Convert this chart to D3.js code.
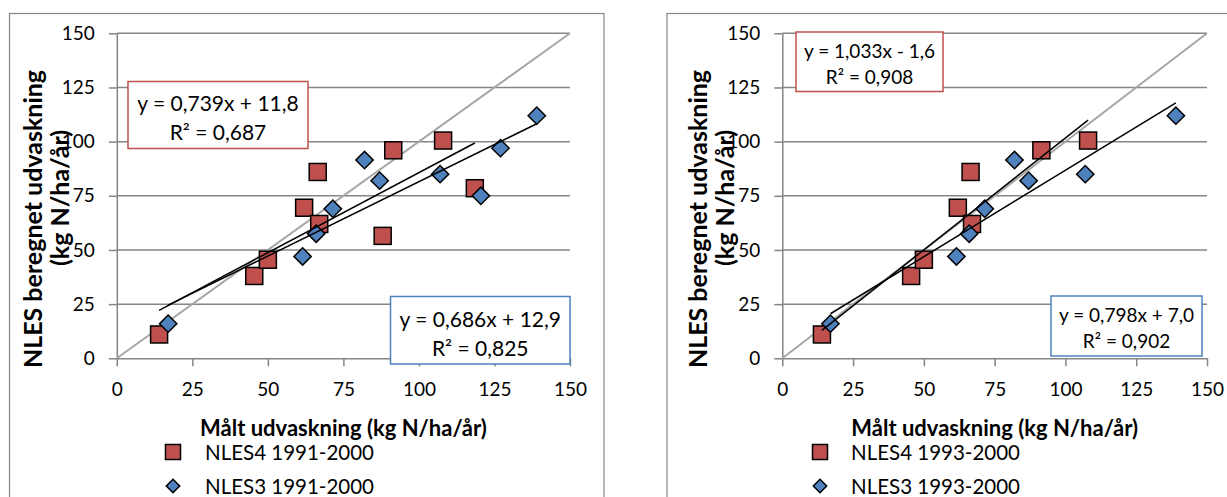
<!DOCTYPE html>
<html>
<head>
<meta charset="utf-8">
<script src="https://cdn.jsdelivr.net/npm/d3@7"></script>
<style>
  body { margin: 0; background: #fff; }
  text { font-family: Lato, "Open Sans", sans-serif; fill: #000; }
</style>
</head>
<body>
<svg id="chart" width="1227" height="497"></svg>
<script>
// axis ticks (same on both axes, both panels)
var ticks = [0, 25, 50, 75, 100, 125, 150];

// left panel: 1991-2000
var nles4_91_x = [14, 45.5, 50, 62, 67, 66.5, 91.5, 88, 108, 118.5];
var nles4_91_y = [11, 38, 45.5, 69.5, 62, 86, 96, 56.5, 100.5, 78.5];
var nles3_91_x = [17, 61.5, 66, 71.5, 82, 87, 107, 120.5, 127, 139];
var nles3_91_y = [16, 47, 57.5, 69, 91.5, 82, 85, 75, 97, 112];

// right panel: 1993-2000
var nles4_93_x = [14, 45.5, 50, 62, 67, 66.5, 91.5, 108];
var nles4_93_y = [11, 38, 45.5, 69.5, 62, 86, 96, 100.5];
var nles3_93_x = [17, 61.5, 66, 71.5, 82, 87, 107, 139];
var nles3_93_y = [16, 47, 57.5, 69, 91.5, 82, 85, 112];

// linear trend lines [slope, intercept] as printed in the chart
var fit4_91 = [0.739, 11.8];
var fit3_91 = [0.686, 12.9];
var fit4_93 = [1.033, -1.6];
var fit3_93 = [0.798, 7.0];

var eq4_91 = ["y = 0,739x + 11,8", "R² = 0,687"];
var eq3_91 = ["y = 0,686x + 12,9", "R² = 0,825"];
var eq4_93 = ["y = 1,033x - 1,6", "R² = 0,908"];
var eq3_93 = ["y = 0,798x + 7,0", "R² = 0,902"];

var legend_91 = ["NLES4 1991-2000", "NLES3 1991-2000"];
var legend_93 = ["NLES4 1993-2000", "NLES3 1993-2000"];

var yTitle = ["NLES beregnet udvaskning", "(kg N/ha/år)"];
var xTitle = "Målt udvaskning (kg N/ha/år)";

var RED = "#C0504D", BLUE = "#4F81BD", GRID = "#868686";

var svg = d3.select("#chart");

function drawPanel(p) {
  var g = svg.append("g");
  var x = d3.scaleLinear().domain([0, 150]).range([p.x0, p.x1]);
  var y = d3.scaleLinear().domain([0, 150]).range([358.3, 33.3]);

  // chart border
  g.append("rect")
    .attr("x", p.bx).attr("y", 13.5)
    .attr("width", p.bw).attr("height", 520)
    .attr("fill", "none").attr("stroke", GRID).attr("stroke-width", 1.2);

  // gridlines
  g.selectAll(".grid").data(ticks.filter(t => t > 0)).enter()
    .append("line")
    .attr("x1", x(0)).attr("x2", x(150))
    .attr("y1", d => y(d)).attr("y2", d => y(d))
    .attr("stroke", GRID).attr("stroke-width", 1.5);

  // axes
  var yAxis = g.append("g")
    .attr("transform", "translate(" + x(0) + ",0)")
    .call(d3.axisLeft(y).tickValues(ticks).tickSize(8).tickPadding(14).tickSizeOuter(0));
  var xAxis = g.append("g")
    .attr("transform", "translate(0," + y(0) + ")")
    .call(d3.axisBottom(x).tickValues(ticks).tickSize(8).tickPadding(16).tickSizeOuter(0));
  [xAxis, yAxis].forEach(a => {
    a.select(".domain").attr("stroke", GRID).attr("stroke-width", 1.5);
    a.selectAll(".tick line").attr("stroke", GRID).attr("stroke-width", 1.5);
    a.selectAll(".tick text").attr("font-size", 19).attr("font-family", "Lato, sans-serif").attr("fill", "#000");
  });

  // 1:1 line
  g.append("line")
    .attr("x1", x(0)).attr("y1", y(0)).attr("x2", x(150)).attr("y2", y(150))
    .attr("stroke", "#A6A6A6").attr("stroke-width", 2);

  // NLES4 squares
  var sq = d3.range(p.x4.length).map(i => [p.x4[i], p.y4[i]]);
  g.selectAll(".sq").data(sq).enter().append("rect")
    .attr("x", d => x(d[0]) - 8.5).attr("y", d => y(d[1]) - 8.5)
    .attr("width", 17).attr("height", 17)
    .attr("fill", RED).attr("stroke", "#000").attr("stroke-width", 1.5);

  // NLES3 diamonds
  var dm = d3.range(p.x3.length).map(i => [p.x3[i], p.y3[i]]);
  var diamond = d3.symbol().type(d3.symbolSquare).size(150);
  g.selectAll(".dm").data(dm).enter().append("path")
    .attr("d", diamond)
    .attr("transform", d => "translate(" + x(d[0]) + "," + y(d[1]) + ") rotate(45)")
    .attr("fill", BLUE).attr("stroke", "#000").attr("stroke-width", 1.5);

  // trend lines, drawn over the range of each series
  [[p.x4, p.f4], [p.x3, p.f3]].forEach(s => {
    var lo = d3.min(s[0]), hi = d3.max(s[0]);
    g.append("line")
      .attr("x1", x(lo)).attr("y1", y(s[1][0] * lo + s[1][1]))
      .attr("x2", x(hi)).attr("y2", y(s[1][0] * hi + s[1][1]))
      .attr("stroke", "#000").attr("stroke-width", 1.5);
  });

  // equation boxes
  p.boxes.forEach(b => {
    g.append("rect")
      .attr("x", b.x).attr("y", b.y).attr("width", b.w).attr("height", b.h)
      .attr("fill", "#fff").attr("stroke", b.color).attr("stroke-width", 1.5);
    b.text.forEach((t, i) => {
      g.append("text")
        .attr("x", b.x + b.w / 2).attr("y", b.ty[i])
        .attr("text-anchor", "middle").attr("dominant-baseline", "central")
        .attr("font-size", b.fs).text(t);
    });
  });

  // axis titles
  g.append("text")
    .attr("x", (p.x0 + p.x1) / 2).attr("y", 427)
    .attr("text-anchor", "middle").attr("dominant-baseline", "central")
    .attr("font-size", 22).attr("font-weight", "bold").text(xTitle);
  [[x(0) - 85, 219], [x(0) - 58, 198]].forEach((pos, i) => {
    g.append("text")
      .attr("transform", "translate(" + pos[0] + "," + pos[1] + ") rotate(-90)")
      .attr("text-anchor", "middle").attr("dominant-baseline", "central")
      .attr("font-size", 25).attr("font-weight", "bold").text(yTitle[i]);
  });

  // legend
  var lg = g.append("g");
  lg.append("rect")
    .attr("x", p.lx - 7.5).attr("y", 452 - 7.5).attr("width", 15).attr("height", 15)
    .attr("fill", RED).attr("stroke", "#000").attr("stroke-width", 1.5);
  lg.append("path")
    .attr("d", d3.symbol().type(d3.symbolSquare).size(90))
    .attr("transform", "translate(" + p.lx + ",486) rotate(45)")
    .attr("fill", BLUE).attr("stroke", "#000").attr("stroke-width", 1.5);
  p.legend.forEach((t, i) => {
    lg.append("text")
      .attr("x", p.tx).attr("y", i === 0 ? 452 : 486)
      .attr("dominant-baseline", "central")
      .attr("font-size", 20.5).text(t);
  });
}

drawPanel({
  x0: 116.8, x1: 570, bx: 9.5, bw: 594.5,
  x4: nles4_91_x, y4: nles4_91_y, x3: nles3_91_x, y3: nles3_91_y,
  f4: fit4_91, f3: fit3_91,
  boxes: [
    { x: 128, y: 81.5, w: 180, h: 67, color: RED, text: eq4_91, ty: [102, 131], fs: 21 },
    { x: 390.5, y: 296.5, w: 179.5, h: 67.5, color: BLUE, text: eq3_91, ty: [318, 347], fs: 21 }
  ],
  legend: legend_91, lx: 173, tx: 205
});

drawPanel({
  x0: 782.3, x1: 1207, bx: 667, bw: 600,
  x4: nles4_93_x, y4: nles4_93_y, x3: nles3_93_x, y3: nles3_93_y,
  f4: fit4_93, f3: fit3_93,
  boxes: [
    { x: 796, y: 32, w: 147, h: 59.5, color: RED, text: eq4_93, ty: [50, 76], fs: 19 },
    { x: 1051, y: 296, w: 151, h: 60, color: BLUE, text: eq3_93, ty: [314, 340], fs: 19 }
  ],
  legend: legend_93, lx: 820, tx: 851
});
</script>
</body>
</html>
